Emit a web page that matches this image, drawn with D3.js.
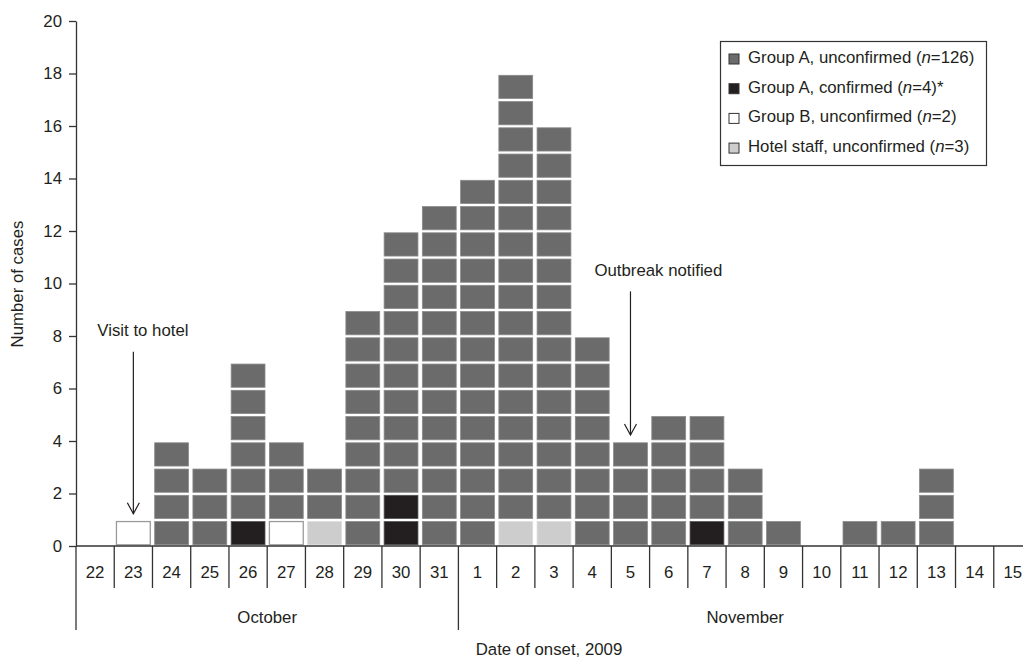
<!DOCTYPE html>
<html>
<head>
<meta charset="utf-8">
<script src="https://cdn.jsdelivr.net/npm/d3@7"></script>
<style>
  body { margin: 0; background: #fff; }
  svg { display: block; font-family: "Liberation Sans", Arial, Helvetica, sans-serif; }
  text { fill: #231f20; }
</style>
</head>
<body>
<svg width="1023" height="662"></svg>
<script>
// days on the x axis (Oct 22 - Nov 15, 2009)
var months = ["October", "November"];
var dayLabels = ["22","23","24","25","26","27","28","29","30","31",
  "1","2","3","4","5","6","7","8","9","10","11","12","13","14","15"];
var dayMonth = [0,0,0,0,0,0,0,0,0,0, 1,1,1,1,1,1,1,1,1,1,1,1,1,1,1];

// cases per day, one array per group
var confirmedA   = [0,0,0,0,1,0,0,0,2,0, 0,0,0,0,0,0,1,0,0,0,0,0,0,0,0];
var groupB       = [0,1,0,0,0,1,0,0,0,0, 0,0,0,0,0,0,0,0,0,0,0,0,0,0,0];
var hotelStaff   = [0,0,0,0,0,0,1,0,0,0, 0,1,1,0,0,0,0,0,0,0,0,0,0,0,0];
var unconfirmedA = [0,0,4,3,6,3,2,9,10,13, 14,17,15,8,4,5,4,3,1,0,1,1,3,0,0];

var yTicks = [0,2,4,6,8,10,12,14,16,18,20];

var seriesKeys = ["confirmedA", "groupB", "hotelStaff", "unconfirmedA"];
var seriesInfo = {
  unconfirmedA: { name: "Group A, unconfirmed", n: "126", star: false, fill: "#6b6b6b", stroke: "#8a8a8a" },
  confirmedA:   { name: "Group A, confirmed",   n: "4",   star: true,  fill: "#231f20", stroke: "#555" },
  groupB:       { name: "Group B, unconfirmed", n: "2",   star: false, fill: "#ffffff", stroke: "#9a9a9a" },
  hotelStaff:   { name: "Hotel staff, unconfirmed", n: "3", star: false, fill: "#cdcdcd", stroke: "#dcdcdc" }
};
var legendOrder = ["unconfirmedA", "confirmedA", "groupB", "hotelStaff"];

var annotations = [
  { day: 1, value: 1, top: 7.4, label: "Visit to hotel", textY: 8.0 },
  { day: 14, value: 4, top: 9.7, label: "Outbreak notified", textY: 10.3 }
];

var fs = 16.8;
var svg = d3.select("svg");

var x = d3.scaleBand()
  .domain(d3.range(dayLabels.length))
  .range([76, 1032])
  .paddingInner(0).paddingOuter(0);

var y = d3.scaleLinear().domain([0, 20]).range([546, 21]);

var rows = dayLabels.map(function(d, i) {
  return { i: i, confirmedA: confirmedA[i], groupB: groupB[i],
    hotelStaff: hotelStaff[i], unconfirmedA: unconfirmedA[i] };
});
var stack = d3.stack().keys(seriesKeys);
var layers = stack(rows);

// unit cells: one small box per case
var cells = [];
layers.forEach(function(layer) {
  layer.forEach(function(d) {
    for (var k = d[0]; k < d[1]; k++) cells.push({ key: layer.key, i: d.data.i, k: k });
  });
});

var unit = y(0) - y(1);
var bw = x.bandwidth();

svg.append("g").selectAll("rect")
  .data(cells)
  .enter().append("rect")
  .attr("x", function(d) { return x(d.i) + 2.2; })
  .attr("y", function(d) { return y(d.k + 1) + 1.8; })
  .attr("width", bw - 4.4)
  .attr("height", unit - 3)
  .attr("fill", function(d) { return seriesInfo[d.key].fill; })
  .attr("stroke", function(d) { return seriesInfo[d.key].stroke; })
  .attr("stroke-width", function(d) { return d.key == "groupB" ? 1.3 : 0.8; });

// y axis
var yAxis = svg.append("g")
  .attr("transform", "translate(76,0)")
  .call(d3.axisLeft(y).tickValues(yTicks).tickSize(7).tickSizeOuter(0).tickPadding(7));
yAxis.selectAll("path, line").attr("stroke", "#333").attr("stroke-width", 1.3);
yAxis.selectAll("text").attr("font-size", fs).attr("fill", "#231f20")
  .style("font-family", "'Liberation Sans', Arial, sans-serif");

// x axis: baseline, day dividers, month dividers
var xg = svg.append("g");
xg.append("line")
  .attr("x1", 76).attr("x2", 1023)
  .attr("y1", y(0)).attr("y2", y(0))
  .attr("stroke", "#333").attr("stroke-width", 1.3);

xg.selectAll(".daytick")
  .data(dayLabels)
  .enter().append("line")
  .attr("x1", function(d, i) { return x(i); })
  .attr("x2", function(d, i) { return x(i); })
  .attr("y1", y(0))
  .attr("y2", function(d, i) { return (i == 0 || dayMonth[i] != dayMonth[i - 1]) ? 630 : 588; })
  .attr("stroke", "#333").attr("stroke-width", 1.3);

xg.selectAll(".daylabel")
  .data(dayLabels)
  .enter().append("text")
  .attr("x", function(d, i) { return x(i) + bw / 2; })
  .attr("y", 574)
  .attr("text-anchor", "middle")
  .attr("dominant-baseline", "middle")
  .attr("font-size", fs)
  .text(function(d) { return d; });

xg.selectAll(".month")
  .data(months)
  .enter().append("text")
  .attr("x", function(m, mi) {
    var idx = d3.range(dayLabels.length).filter(function(i) { return dayMonth[i] == mi; });
    return (x(idx[0]) + x(idx[idx.length - 1]) + bw) / 2;
  })
  .attr("y", 619)
  .attr("text-anchor", "middle")
  .attr("dominant-baseline", "middle")
  .attr("font-size", fs)
  .text(function(d) { return d; });

svg.append("text")
  .attr("x", 549).attr("y", 651)
  .attr("text-anchor", "middle")
  .attr("dominant-baseline", "middle")
  .attr("font-size", fs)
  .text("Date of onset, 2009");

svg.append("text")
  .attr("transform", "translate(19,284) rotate(-90)")
  .attr("text-anchor", "middle")
  .attr("dominant-baseline", "middle")
  .attr("font-size", fs)
  .text("Number of cases");

// annotations with arrows
var ann = svg.append("g").selectAll("g").data(annotations).enter().append("g");
ann.append("line")
  .attr("x1", function(d) { return x(d.day) + bw / 2; })
  .attr("x2", function(d) { return x(d.day) + bw / 2; })
  .attr("y1", function(d) { return y(d.top); })
  .attr("y2", function(d) { return y(d.value) - 6; })
  .attr("stroke", "#231f20").attr("stroke-width", 1.2);
ann.append("path")
  .attr("d", function(d) {
    var cx = x(d.day) + bw / 2, ty = y(d.value) - 6;
    return "M" + (cx - 6) + "," + (ty - 11) + "L" + cx + "," + ty + "L" + (cx + 6) + "," + (ty - 11);
  })
  .attr("fill", "none").attr("stroke", "#231f20").attr("stroke-width", 1.2);
ann.append("text")
  .attr("x", function(d) { return x(d.day) + bw / 2 - 36; })
  .attr("y", function(d) { return y(d.textY); })
  .attr("font-size", fs)
  .text(function(d) { return d.label; });

// legend
var lg = svg.append("g");
lg.append("rect")
  .attr("x", 720.5).attr("y", 41.5).attr("width", 266).attr("height", 124)
  .attr("fill", "#fff").attr("stroke", "#333").attr("stroke-width", 1.2);
var li = lg.selectAll(".item").data(legendOrder).enter().append("g")
  .attr("transform", function(d, i) { return "translate(729," + (59 + i * 29.7) + ")"; });
li.append("rect")
  .attr("x", 0).attr("y", -5).attr("width", 10).attr("height", 10)
  .attr("fill", function(d) { return seriesInfo[d].fill; })
  .attr("stroke", "#333").attr("stroke-width", 1);
var lt = li.append("text")
  .attr("x", 19).attr("y", 0)
  .attr("dominant-baseline", "middle")
  .attr("font-size", fs);
lt.append("tspan").text(function(d) { return seriesInfo[d].name + " ("; });
lt.append("tspan").attr("font-style", "italic").text("n");
lt.append("tspan").text(function(d) { return "=" + seriesInfo[d].n + ")" + (seriesInfo[d].star ? "*" : ""); });
</script>
</body>
</html>
